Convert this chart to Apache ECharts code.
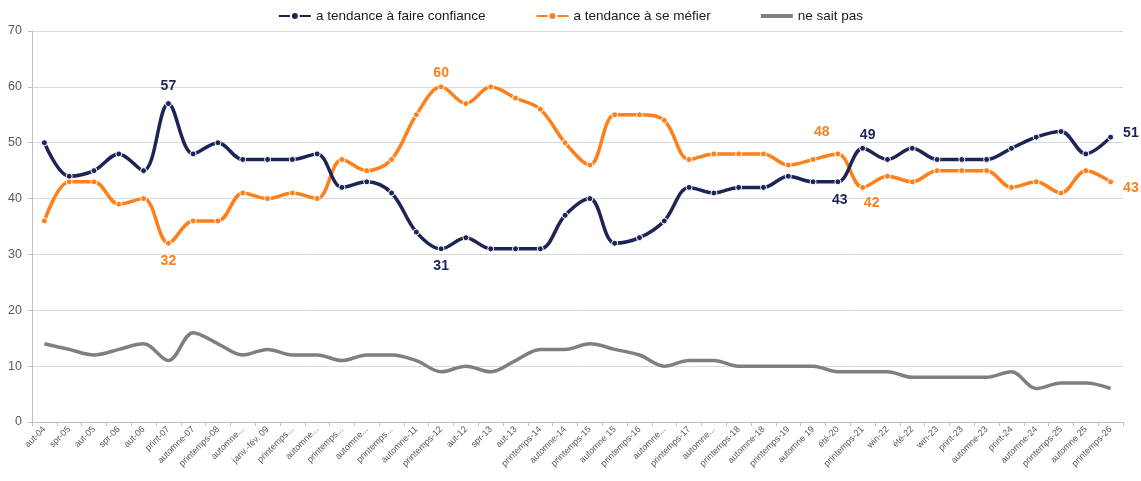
<!DOCTYPE html>
<html>
<head>
<meta charset="utf-8">
<script src="https://cdn.jsdelivr.net/npm/echarts@6/dist/echarts.min.js"></script>
<style>
html, body { margin: 0; padding: 0; background: #fff; }
#zhexian { width: 1141px; height: 481px; }
</style>
</head>
<body>
<div id="zhexian"></div>
<script>
// catégories de l'axe x
var categories = ['aut-04','spr-05','aut-05','spr-06','aut-06','print-07','automne-07','printemps-08','automne...','janv.-fév. 09',
    'printemps...','automne...','printemps...','automne...','printemps...','automne-11','printemps-12','aut-12','spr-13','aut-13',
    'printemps-14','automne-14','printemps-15','automne 15','printemps-16','automne...','printemps-17','automne...','printemps-18','automne-18',
    'printemps-19','automne 19','été-20','printemps-21','win-22','été-22','win-23','print-23','automne-23','print-24',
    'automne-24','printemps-25','automne 25','printemps-26'];

var confiance = [50,44,45,48,45,57,48,50,47,47, 47,48,42,43,41,34,31,33,31,31, 31,37,40,32,33,36,42,41,42,42, 44,43,43,49,47,49,47,47,47,49, 51,52,48,51];
var mefier    = [36,43,43,39,40,32,36,36,41,40, 41,40,47,45,47,55,60,57,60,58, 56,50,46,55,55,54,47,48,48,48, 46,47,48,42,44,43,45,45,45,42, 43,41,45,43];
var nesaitpas = [14,13,12,13,14,11,16,14,12,13, 12,12,11,12,12,11,9,10,9,11, 13,13,14,13,12,10,11,11,10,10, 10,10,9,9,9,8,8,8,8,9, 6,7,7,6];

var yTicks = [0,10,20,30,40,50,60,70];

var navy = '#1c2458';
var orange = '#ff7f1a';
var gris = '#7f7f7f';

// points étiquetés : index -> position / décalage
var labelsConfiance = { 5: ['top', [0, -2]], 16: ['bottom', [0, 2]], 32: ['bottom', [2, 3]], 33: ['top', [5, 2]], 43: ['right', [4, -4]] };
var labelsMefier    = { 5: ['bottom', [0, 2]], 16: ['top', [0, 2]], 32: ['top', [-16, -6]], 33: ['bottom', [9, 0]], 43: ['right', [4, 6]] };

function buildData(values, labels, color){
    return values.map(function(v, i){
        if(labels[i]){
            return {
                value: v,
                label: {
                    show: true,
                    position: labels[i][0],
                    offset: labels[i][1],
                    color: color,
                    fontSize: 14,
                    fontWeight: 'bold',
                    fontFamily: 'Liberation Sans, Arial, sans-serif'
                }
            };
        }
        return v;
    });
}

var myChart = echarts.init(document.getElementById('zhexian'));

var option = {
    animation: false,
    textStyle: { fontFamily: 'Liberation Sans, Arial, sans-serif' },
    legend: {
        top: 4,
        left: 'center',
        itemWidth: 32,
        itemHeight: 10,
        itemGap: 50,
        textStyle: { fontSize: 13.5, color: '#1a1a1a' },
        data: [
            'a tendance à faire confiance',
            'a tendance à se méfier',
            { name: 'ne sait pas', icon: 'path://M0,0 L32,0 L32,4 L0,4 Z' }
        ]
    },
    grid: { left: 32, right: 18, top: 31, bottom: 59, containLabel: false },
    xAxis: {
        type: 'category',
        data: categories,
        boundaryGap: true,
        axisLine: { lineStyle: { color: '#bfbfbf' } },
        axisTick: { show: true, length: 4, lineStyle: { color: '#bfbfbf' } },
        axisLabel: { rotate: 45, fontSize: 9, color: '#595959', interval: 0, margin: 6 }
    },
    yAxis: {
        type: 'value',
        min: yTicks[0],
        max: yTicks[yTicks.length - 1],
        interval: 10,
        axisLine: { show: true, lineStyle: { color: '#bfbfbf' } },
        axisTick: { show: true, length: 4, lineStyle: { color: '#bfbfbf' } },
        axisLabel: { fontSize: 12.5, color: '#595959', margin: 10 },
        splitLine: { lineStyle: { color: '#d9d9d9', width: 1 } }
    },
    series: [
        {
            name: 'a tendance à faire confiance',
            type: 'line',
            smooth: 0.35,
            symbol: 'circle',
            symbolSize: 6,
            lineStyle: { width: 3.5, color: navy },
            itemStyle: { color: navy, borderColor: '#fff', borderWidth: 1 },
            data: buildData(confiance, labelsConfiance, navy),
            z: 3
        },
        {
            name: 'a tendance à se méfier',
            type: 'line',
            smooth: 0.35,
            symbol: 'circle',
            symbolSize: 6,
            lineStyle: { width: 3.5, color: orange },
            itemStyle: { color: orange, borderColor: '#fff', borderWidth: 1 },
            data: buildData(mefier, labelsMefier, orange),
            z: 2
        },
        {
            name: 'ne sait pas',
            type: 'line',
            smooth: 0.35,
            symbol: 'none',
            lineStyle: { width: 3.5, color: gris },
            itemStyle: { color: gris },
            data: nesaitpas,
            z: 1
        }
    ]
};

myChart.setOption(option);
</script>
</body>
</html>
